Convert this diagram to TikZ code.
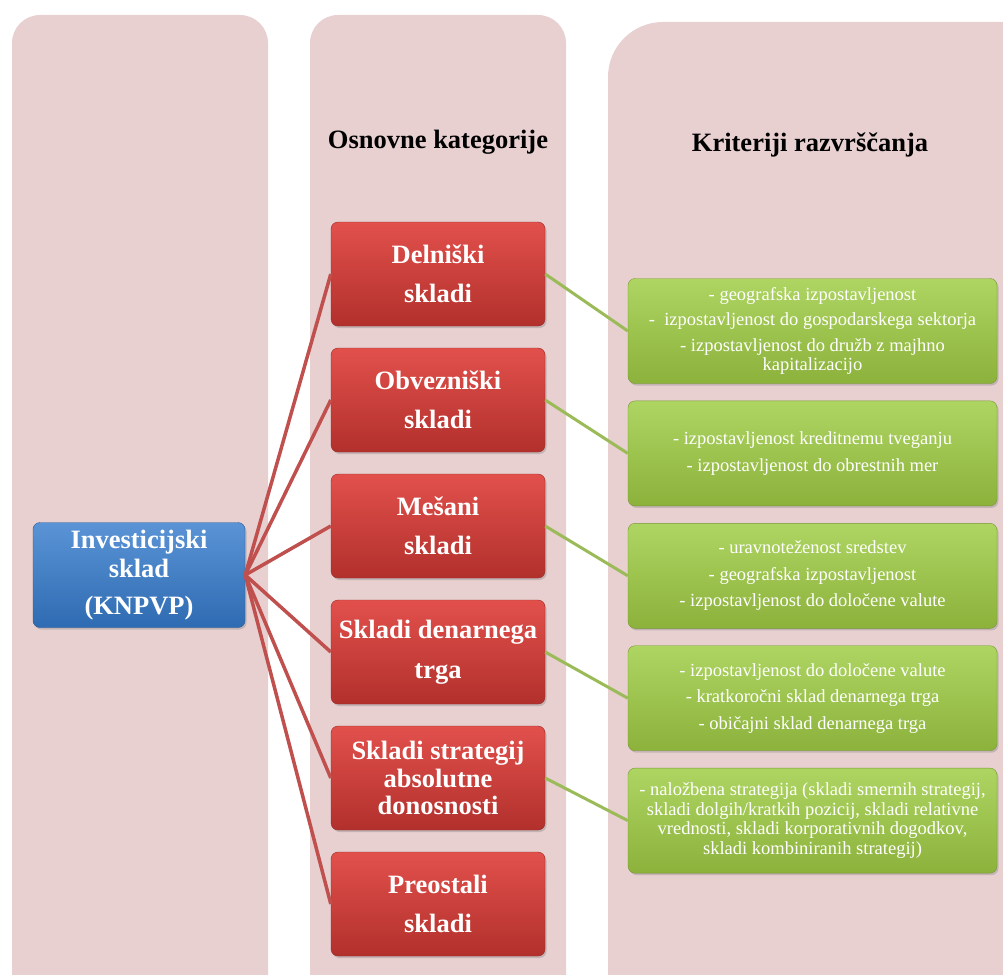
\documentclass[tikz,border=0pt]{standalone}
\usepackage{fontspec}
\setmainfont{Liberation Serif}
\usetikzlibrary{positioning, shadows}

\definecolor{colbg}{HTML}{E8CFD0}
\definecolor{bluetop}{HTML}{5A94D6}
\definecolor{bluebot}{HTML}{2F6BB2}
\definecolor{redtop}{HTML}{E2504C}
\definecolor{redbot}{HTML}{B2302C}
\definecolor{greentop}{HTML}{AED562}
\definecolor{greenbot}{HTML}{8CB23C}
\definecolor{redlink}{HTML}{C0504D}
\definecolor{greenlink}{HTML}{9BBB59}

\begin{document}
\begin{tikzpicture}[x=1pt, y=-1pt, node distance=126pt, on grid,
  column/.style={fill=colbg, rounded corners=28pt},
  boxbase/.style={rounded corners=7pt, text=white, align=center,
    drop shadow={opacity=0.35, shadow xshift=1.5pt, shadow yshift=-2pt}},
  root/.style={boxbase, top color=bluetop, bottom color=bluebot, draw=bluebot!85!black,
    minimum width=212pt, minimum height=105pt, inner sep=1pt,
    font=\bfseries\fontsize{26.5}{29}\selectfont},
  cat/.style={boxbase, top color=redtop, bottom color=redbot, draw=redbot!85!black,
    minimum width=214pt, minimum height=104pt, inner sep=1pt,
    font=\bfseries\fontsize{26.5}{27.5}\selectfont},
  crit/.style={boxbase, top color=greentop, bottom color=greenbot, draw=greenbot!85!black,
    minimum width=369pt, minimum height=105pt, inner sep=1pt,
    font=\fontsize{18.5}{19.5}\selectfont},
  title/.style={font=\bfseries\fontsize{26.5}{28}\selectfont},
  redline/.style={draw=redlink, line width=3.5pt},
  greenline/.style={draw=greenlink, line width=3pt}]

  \useasboundingbox (0,0) rectangle (1003,974);

  % background columns
  \begin{scope}
    \clip (0,0) rectangle (1003,974);
    \fill[column] (12,1000) -- (12,15) -- (268,15) -- (268,1000);
    \fill[column] (310,1000) -- (310,15) -- (566,15) -- (566,1000);
    \fill[column, rounded corners=55pt] (608,1000) -- (608,22) -- (1060,22) -- (1060,1000);
  \end{scope}

  \node[title] (t2) at (438,142) {Osnovne kategorije};
  \node[title] (t3) at (810,145) {Kriteriji razvrščanja};

  \node[root] (knpvp) at (139,575) {Investicijski\\ sklad\\[8pt] (KNPVP)};

  \node[cat] (delniski) at (438,274) {Delniški\\[12pt] skladi};
  \node[cat] (obvezniski) [below=of delniski] {Obvezniški\\[12pt] skladi};
  \node[cat] (mesani) [below=of obvezniski] {Mešani\\[12pt] skladi};
  \node[cat] (denarni) [below=of mesani] {Skladi denarnega\\[12pt] trga};
  \node[cat] (absolutni) [below=of denarni] {Skladi strategij\\ absolutne\\ donosnosti};
  \node[cat] (preostali) [below=of absolutni] {Preostali\\[12pt] skladi};

  \begin{scope}[node distance=122.4pt]
  \node[crit] (k1) at (812.5,331) {- geografska izpostavljenost\\[6pt]
    -~ izpostavljenost do gospodarskega sektorja\\[6pt]
    - izpostavljenost do družb z majhno\\ kapitalizacijo};
  \node[crit] (k2) [below=of k1] {- izpostavljenost kreditnemu tveganju\\[7pt]
    - izpostavljenost do obrestnih mer};
  \node[crit] (k3) [below=of k2] {- uravnoteženost sredstev\\[7pt]
    - geografska izpostavljenost\\[7pt] - izpostavljenost do določene valute};
  \node[crit] (k4) [below=of k3] {- izpostavljenost do določene valute\\[7pt]
    - kratkoročni sklad denarnega trga\\[7pt] - običajni sklad denarnega trga};
  \node[crit] (k5) [below=of k4] {- naložbena strategija (skladi smernih strategij,\\
    skladi dolgih/kratkih pozicij, skladi relativne\\
    vrednosti, skladi korporativnih dogodkov,\\ skladi kombiniranih strategij)};
  \end{scope}

  \path[redline]
  (knpvp.east) edge (delniski.west)
    (knpvp.east) edge (obvezniski.west)
  (knpvp.east) edge (mesani.west)
    (knpvp.east) edge (denarni.west)
  (knpvp.east) edge (absolutni.west)
    (knpvp.east) edge (preostali.west);
  \path[greenline]
  (delniski.east) edge (k1.west)
    (obvezniski.east) edge (k2.west)
  (mesani.east) edge (k3.west)
    (denarni.east) edge (k4.west)
  (absolutni.east) edge (k5.west);
\end{tikzpicture}
\end{document}
